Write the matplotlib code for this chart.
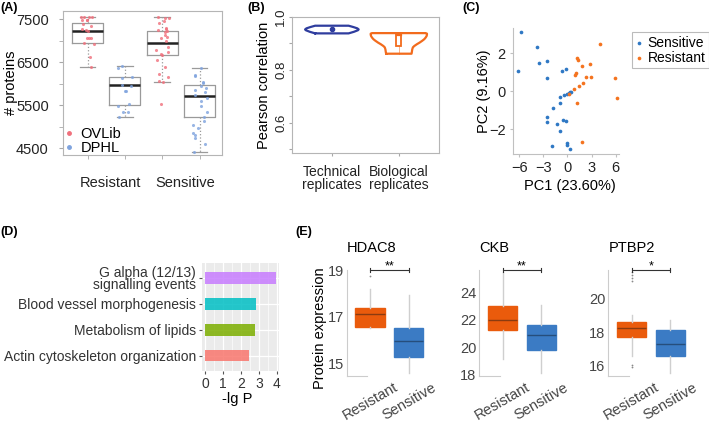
import matplotlib
matplotlib.use("Agg")
import matplotlib.pyplot as plt
import numpy as np
from matplotlib.lines import Line2D
from matplotlib.patches import Rectangle
from matplotlib.transforms import ScaledTranslation

plt.rcParams["font.family"] = ["Liberation Sans", "DejaVu Sans"]
plt.rcParams["font.size"] = 10

W, H = 709, 426

# ---- (A) number of identified proteins per sample ----
a_labels = ["Resistant", "Sensitive"]
a_libs = ["OVLib", "DPHL"]
a_res_ovlib = [7561, 7561, 7561, 7547, 7484, 7484, 7484, 7391, 7351, 7274, 7251,
               7235, 7058, 7058, 7072, 6918, 6942, 6616, 6380]
a_res_dphl = [6414, 6360, 6165, 6142, 5972, 5956, 5832, 5832, 5523, 5484, 5351,
              5337, 5220]
a_sen_ovlib = [7537, 7523, 7545, 7460, 7407, 7300, 7274, 7251, 7228, 7200, 7135,
               7095, 7058, 6995, 6849, 6786, 6747, 6686, 6670, 6553, 6398, 6221,
               6165, 6065, 6049, 5530]
a_sen_dphl = [6370, 6204, 6181, 6034, 6011, 5956, 5909, 5855, 5816, 5739, 5677,
              5600, 5491, 5337, 5234, 5134, 5041, 4965, 4848, 4809, 4746, 4593,
              4400]
a_lo = [6380, 5220, 6040, 4400]
a_q1 = [6945, 5510, 6665, 5235]
a_med = [7230, 5960, 6935, 5710]
a_q3 = [7420, 6150, 7235, 5965]
a_hi = [7560, 6410, 7545, 6370]

# ---- (B) correlation violins (density outline: level, half width) ----
b_labels = ["Technical\nreplicates", "Biological\nreplicates"]
tech_y = [0.938, 0.944, 0.950, 0.953, 0.957, 0.962, 0.967]
tech_hw = [0.25, 0.33, 0.39, 0.40, 0.38, 0.32, 0.25]
tech_med = 0.953
bio_y = [0.861, 0.868, 0.877, 0.885, 0.890, 0.897, 0.903, 0.910, 0.916, 0.922,
         0.928, 0.933, 0.937, 0.939]
bio_hw = [0.19, 0.195, 0.20, 0.21, 0.23, 0.27, 0.31, 0.35, 0.38, 0.40, 0.415,
          0.42, 0.42, 0.40]
bio_q1, bio_med, bio_q3 = 0.890, 0.930, 0.935

# ---- (C) PCA ----
sens_pc1 = [-5.71, -3.77, -3.52, -2.48, -6.13, -2.48, -0.74, -0.12, -0.96, -0.42,
            -0.05, 0.16, 0.37, 0.50, -0.87, -1.79, -2.48, -2.48, -1.29, -0.54,
            -0.21, -0.92, -1.91, 0.0, -0.05, 0.33]
sens_pc2 = [3.09, 2.32, 1.47, 1.59, 1.06, 0.71, 1.07, 1.14, -0.31, -0.22,
            -0.14, -0.08, -0.05, -0.03, -0.64, -0.91, -1.38, -1.64, -1.73, -1.52,
            -1.55, -2.09, -2.87, -2.73, -2.85, -3.02]
res_pc1 = [4.05, 1.24, 1.32, 2.85, 1.86, 1.12, 0.91, 2.36, 2.89, 5.87, 1.99, 1.44,
           0.78, 0.16, 6.12, 1.19, 1.81]
res_pc2 = [2.46, 1.76, 1.63, 1.45, 1.33, 0.93, 0.85, 0.76, 0.76, 0.71, 0.43, 0.26,
           0.09, -0.15, -0.36, -0.62, -2.66]

# ---- (D) enrichment ----
d_terms = ["Actin cytoskeleton organization", "Metabolism of lipids",
           "Blood vessel morphogenesis", "G alpha (12/13)\nsignalling events"]
d_values = [2.43, 2.75, 2.81, 3.93]
d_colors = ["#F8766D", "#7CAE00", "#00BFC4", "#C77CFF"]

# ---- (E) protein expression boxplots ----
e_genes = ["HDAC8", "CKB", "PTBP2"]
e_groups = ["Resistant", "Sensitive"]
e_signif = ["**", "**", "*"]
# lo, q1, median, q3, hi
e_res = [[16.50, 16.56, 17.12, 17.36, 18.19],
         [19.16, 21.28, 22.00, 22.99, 25.55],
         [16.53, 17.68, 18.23, 18.63, 19.00]]
e_sen = [[14.59, 15.29, 15.98, 16.52, 17.95],
         [18.12, 19.79, 20.90, 21.60, 23.13],
         [15.53, 16.53, 17.25, 18.15, 18.70]]
e_res_out = [[18.75], [], [21.65, 21.44, 21.27, 21.06, 16.04, 15.90]]
e_sen_out = [[], [], []]
e_yticks = [[15, 17, 19], [18, 20, 22, 24], [16, 18, 20]]


def px_axes(fig, left, top, right, bottom):
    return fig.add_axes([left / W, 1 - bottom / H, (right - left) / W, (bottom - top) / H])


fig = plt.figure(figsize=(W / 100, H / 100), dpi=100)
grey = "#a8a8a8"

# (A)
axA = px_axes(fig, 63, 11, 222, 155)
stats = [dict(whislo=a_lo[i], q1=a_q1[i], med=a_med[i], q3=a_q3[i], whishi=a_hi[i], fliers=[])
         for i in range(4)]
axA.bxp(stats, positions=[1, 2, 3, 4], widths=0.83, showfliers=False, capwidths=0.42,
        boxprops=dict(color="#9a9a9a", lw=0.9),
        medianprops=dict(color="#222222", lw=1.8),
        whiskerprops=dict(color="#9a9a9a", lw=0.9, ls=":"),
        capprops=dict(color="#9a9a9a", lw=0.9))
rng = np.random.default_rng(3)
red_pt, blue_pt = "#f0707c", "#7fa3de"
for i, (vals, col) in enumerate(zip([a_res_ovlib, a_res_dphl, a_sen_ovlib, a_sen_dphl],
                                    [red_pt, blue_pt, red_pt, blue_pt])):
    xs = i + 1 + rng.uniform(-0.2, 0.2, len(vals))
    axA.scatter(xs, vals, s=5, color=col, alpha=0.8, lw=0, zorder=3)
axA.set_xlim(0.34, 4.6)
axA.set_ylim(4340, 7690)
axA.set_yticks([4500, 5500, 6500, 7500])
axA.set_yticks([5000, 6000, 7000], minor=True)
axA.set_xticks([1.62, 3.62])
axA.set_xticklabels(a_labels)
axA.set_xticks([1, 2, 3, 4], minor=True)
axA.tick_params(axis="x", which="major", length=0, pad=15, labelsize=10.5, labelcolor="#222222")
axA.tick_params(axis="x", which="minor", length=3, color=grey)
axA.tick_params(axis="y", which="both", length=3.2, color=grey, pad=7, labelsize=10.5,
                labelcolor="#222222")
for s in axA.spines.values():
    s.set_color("#b5b5b5")
axA.set_ylabel("# proteins", fontsize=10.5)
axA.yaxis.set_label_coords(-0.285, 0.5)
handles = [Line2D([], [], ls="none", marker="o", ms=2.5, color=red_pt),
           Line2D([], [], ls="none", marker="o", ms=2.5, color=blue_pt)]
axA.legend(handles, a_libs, loc="lower left", bbox_to_anchor=(0.0, -0.01), frameon=False,
           borderaxespad=0, borderpad=0.1, handlelength=0.6, handletextpad=0.5,
           labelspacing=0.0, fontsize=10.5)

# (B)
axB = px_axes(fig, 291.7, 17, 439, 153)
blue_v, orange_v = "#2f3d9e", "#f26b1d"
for cx, ys, hws, col in [(1, tech_y, tech_hw, blue_v), (2, bio_y, bio_hw, orange_v)]:
    ys = np.asarray(ys)
    hws = np.asarray(hws)
    xo = np.concatenate([cx - hws, (cx + hws)[::-1], [cx - hws[0]]])
    yo = np.concatenate([ys, ys[::-1], [ys[0]]])
    axB.plot(xo, yo, color=col, lw=1.6, solid_joinstyle="round")
axB.plot([1, 1], [0.947, 0.959], color=blue_v, lw=2.2, solid_capstyle="butt")
axB.plot([1], [tech_med], marker="o", ms=3, color=blue_v)
axB.plot([2, 2], [bio_y[0], bio_q1], color=orange_v, lw=0.6, alpha=0.6)
axB.add_patch(Rectangle((2 - 0.035, bio_q1), 0.07, bio_q3 - bio_q1, facecolor="white",
                        edgecolor=orange_v, lw=1.3))
axB.plot([2 - 0.03, 2 + 0.03], [bio_med, bio_med], color=orange_v, lw=1.6)
axB.set_xlim(0.4, 2.6)
axB.set_ylim(0.485, 1.0)
axB.set_xticks([1, 2])
axB.set_xticklabels(b_labels, linespacing=0.9)
axB.set_yticks([0.5, 0.6, 0.7, 0.8, 0.9, 1.0])
axB.set_yticklabels(["", "0.6", "", "0.8", "", "1.0"], rotation=90, va="center")
axB.tick_params(axis="both", length=2.5, color=grey, labelsize=10, labelcolor="#222222")
axB.tick_params(axis="y", pad=0.8, labelsize=9.5)
axB.tick_params(axis="x", pad=6)
for s in axB.spines.values():
    s.set_color("#b5b5b5")
axB.set_ylabel("Pearson correlation", fontsize=10.5)
axB.yaxis.set_label_coords(-0.14, 0.5)

# (C)
axC = px_axes(fig, 512.7, 28.3, 619, 154)
c_blue, c_orange = "#2f78c4", "#f4731f"
axC.scatter(sens_pc1, sens_pc2, s=7, color=c_blue, lw=0, label="Sensitive")
axC.scatter(res_pc1, res_pc2, s=7, color=c_orange, lw=0, label="Resistant")
axC.set_xlim(-6.8, 6.4)
axC.set_ylim(-3.3, 3.3)
axC.set_xticks([-6, -3, 0, 3, 6])
axC.set_yticks([-2, 0, 2])
axC.set_xticklabels(["\u22126", "\u22123", "0", "3", "6"])
axC.set_yticklabels(["\u22122", "0", "2"])
axC.spines[["top", "right"]].set_visible(False)
for s in ["left", "bottom"]:
    axC.spines[s].set_color("#c0c0c0")
axC.tick_params(axis="both", length=2, color="#c0c0c0", labelsize=10.5, labelcolor="#222222",
                pad=3)
axC.set_xlabel("PC1 (23.60%)", fontsize=10.5)
axC.xaxis.set_label_coords(0.54, -0.2)
axC.set_ylabel("PC2 (9.16%)", fontsize=10.5)
axC.yaxis.set_label_coords(-0.2, 0.5)
leg = axC.legend(loc="upper left", bbox_to_anchor=(1.12, 0.97), borderaxespad=0,
                 fontsize=10, handlelength=0.6, handletextpad=0.3, borderpad=0.25,
                 labelspacing=0.1, fancybox=False, edgecolor="#aaaaaa", markerscale=1.0)
leg.get_frame().set_linewidth(0.8)

# (D)
axD = px_axes(fig, 201.7, 262.7, 279.3, 371)
axD.set_facecolor("#EBEBEB")
axD.barh(np.arange(1, 5), d_values, height=0.45, color=d_colors, alpha=0.85, zorder=3)
axD.set_xlim(-0.2, 4.13)
axD.set_ylim(0.4, 4.6)
axD.set_xticks([0, 1, 2, 3, 4])
axD.set_xticks([0.5, 1.5, 2.5, 3.5], minor=True)
axD.set_yticks(np.arange(1, 5))
axD.set_yticklabels(d_terms, linespacing=0.85)
axD.grid(True, which="major", color="white", lw=0.9, zorder=0)
axD.grid(True, which="minor", axis="x", color="white", lw=0.45, zorder=0)
axD.set_axisbelow(True)
for s in axD.spines.values():
    s.set_visible(False)
axD.tick_params(axis="both", which="major", length=2.5, color="#555555", labelsize=10,
                labelcolor="#333333", pad=1.5)
axD.tick_params(axis="x", which="minor", length=0)
axD.set_xlabel("-lg P", fontsize=10.5)
axD.xaxis.set_label_coords(0.455, -0.19)

# (E)
res_col, sen_col = "#ea5b0c", "#3b7bc4"
res_med_col, sen_med_col = "#8a3b10", "#264e7c"
e_lefts = [346.7, 479.3, 608.3]
for i, gene in enumerate(e_genes):
    ax = px_axes(fig, e_lefts[i], 270, e_lefts[i] + 85.3, 376)
    st = []
    for vals, out in [(e_res[i], e_res_out[i]), (e_sen[i], e_sen_out[i])]:
        st.append(dict(whislo=vals[0], q1=vals[1], med=vals[2], q3=vals[3],
                       whishi=vals[4], fliers=out))
    bp = ax.bxp(st, positions=[1, 2], widths=0.75, patch_artist=True, showcaps=False,
                whiskerprops=dict(color="#cfcfcf", lw=1),
                medianprops=dict(lw=1),
                flierprops=dict(marker="o", ms=1.3, mfc="#8a8a8a", mec="none"))
    for box, med, fc, mc in zip(bp["boxes"], bp["medians"], [res_col, sen_col],
                                [res_med_col, sen_med_col]):
        box.set_facecolor(fc)
        box.set_edgecolor(fc)
        med.set_color(mc)
    ax.set_xlim(0.4, 2.6)
    lo = min(e_res[i][0], e_sen[i][0], *(e_res_out[i] or [99]))
    hi = max(e_res[i][4], e_sen[i][4], *(e_res_out[i] or [0]))
    pad = (hi - lo) * 0.05
    ax.set_ylim(lo - pad * 0.6, hi + pad * 0.3)
    ax.set_yticks(e_yticks[i])
    ax.set_xticks([1, 2])
    ax.set_xticklabels(e_groups, rotation=30, ha="center", va="top")
    for lbl, dx in zip(ax.get_xticklabels(), [-9, 10]):
        lbl.set_transform(lbl.get_transform() + ScaledTranslation(dx / 100, 0, fig.dpi_scale_trans))
    ax.tick_params(axis="both", length=0, labelsize=10.5, labelcolor="#444444")
    ax.tick_params(axis="y", pad=2)
    ax.tick_params(axis="x", pad=3)
    ax.spines[["top", "right"]].set_visible(False)
    ax.spines["left"].set_color("#cccccc")
    ax.spines["bottom"].set_color("#cccccc")
    ax.spines["bottom"].set_bounds(0.4, 0.93)
    ax.set_title(gene, loc="left", fontsize=10.5, pad=13)
    trans = ax.get_xaxis_transform()
    ax.plot([1, 2], [1.0, 1.0], transform=trans, color="#333333", lw=0.8, clip_on=False)
    for xx in [1, 2]:
        ax.plot([xx, xx], [0.985, 1.015], transform=trans, color="#333333", lw=0.8,
                clip_on=False)
    ax.text(1.5, 1.005, e_signif[i], transform=trans, ha="center", va="baseline", fontsize=9)
    if i == 0:
        ax.set_ylabel("Protein expression", fontsize=10.5)
        ax.yaxis.set_label_coords(-0.235, 0.45)

# panel letters
for lab, x, y in [("(A)", 0, 8), ("(B)", 247, 8), ("(C)", 462, 8), ("(D)", 0, 232),
                  ("(E)", 295, 232)]:
    fig.text(x / W, 1 - y / H, lab, fontsize=9, fontweight="bold", va="center", ha="left")

fig.savefig("out.png", dpi=100)
